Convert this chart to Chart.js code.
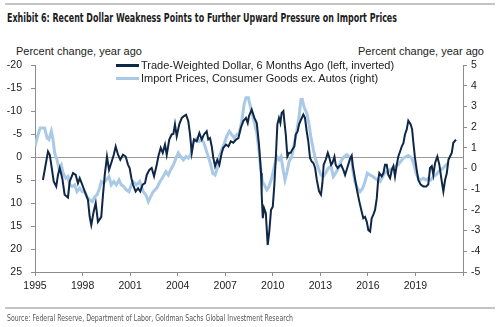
<!DOCTYPE html>
<html>
<head>
<meta charset="utf-8">
<script src="https://cdn.jsdelivr.net/npm/chart.js@4.4.1/dist/chart.umd.min.js"></script>
<style>
  html, body { margin: 0; padding: 0; background: #fff; }
  #wrap { position: relative; width: 500px; height: 327px; overflow: hidden;
          font-family: "Liberation Sans", Arial, sans-serif; color: #222; }
  #chart { position: absolute; left: 0; top: 0; }
  .rule { position: absolute; left: 5px; width: 490px; height: 0; }
  #ruleTop { top: 3px; border-top: 2px solid #c4c4c4; }
  #ruleBottom { top: 307px; border-top: 2px solid #c4c4c4; }
  .fit { position: absolute; white-space: nowrap; transform-origin: 0 50%; }
  #title { left: 7px; top: 10px; line-height: 14px;
           font: bold 12.5px "Liberation Sans Narrow", "DejaVu Sans Condensed", "Liberation Sans", sans-serif;
           color: #1c1c1c; }
  #source { left: 7px; top: 313px; line-height: 12px;
            font: 8.5px "Liberation Sans Narrow", "DejaVu Sans Condensed", "Liberation Sans", sans-serif;
            color: #555; }
  .unit { position: absolute; top: 44px; font-size: 11px; line-height: 14px; white-space: nowrap; color: #222; }
  #unitLeft { left: 16px; }
  #unitRight { right: 16px; }
  #legend { position: absolute; left: 116px; top: 59px; font-size: 11px; line-height: 13px; color: #222; }
  .item { display: flex; align-items: center; white-space: nowrap; }
  .swatch { width: 23px; height: 3px; margin-right: 2px; }
</style>
</head>
<body>
<div id="wrap">
  <div class="rule" id="ruleTop"></div>
  <div class="fit" id="title">Exhibit 6: Recent Dollar Weakness Points to Further Upward Pressure on Import Prices</div>
  <div class="unit" id="unitLeft">Percent change, year ago</div>
  <div class="unit" id="unitRight">Percent change, year ago</div>
  <canvas id="chart" width="500" height="327"></canvas>
  <div id="legend"></div>
  <div class="rule" id="ruleBottom"></div>
  <div class="fit" id="source">Source: Federal Reserve, Department of Labor, Goldman Sachs Global Investment Research</div>
</div>
<script>
// Series names
const seriesNames = [
  'Trade-Weighted Dollar, 6 Months Ago (left, inverted)',
  'Import Prices, Consumer Goods ex. Autos (right)'
];

// Trade-weighted dollar, % yoy, lagged 6 months (left axis, inverted)
const dollarYears = [
  1995.50, 1995.82, 1995.93, 1996.04, 1996.18, 1996.34, 1996.45, 1996.56, 1996.72, 1996.87,
  1997.08, 1997.19, 1997.40, 1997.57, 1997.71, 1997.82, 1997.98, 1998.14, 1998.34, 1998.45,
  1998.55, 1998.70, 1998.83, 1998.97, 1999.18, 1999.29, 1999.40, 1999.54, 1999.67, 1999.81,
  1999.97, 2000.09, 2000.24, 2000.38, 2000.55, 2000.72, 2000.87, 2000.97, 2001.08, 2001.18,
  2001.35, 2001.50, 2001.64, 2001.79, 2001.94, 2002.05, 2002.21, 2002.36, 2002.51, 2002.68,
  2002.78, 2002.93, 2003.06, 2003.20, 2003.31, 2003.47, 2003.62, 2003.73, 2003.83, 2003.94,
  2004.10, 2004.26, 2004.40, 2004.53, 2004.67, 2004.78, 2004.89, 2005.03, 2005.20, 2005.37,
  2005.52, 2005.66, 2005.83, 2005.93, 2006.04, 2006.15, 2006.25, 2006.36, 2006.50, 2006.63,
  2006.78, 2006.88, 2007.05, 2007.20, 2007.35, 2007.51, 2007.68, 2007.83, 2007.98, 2008.14,
  2008.31, 2008.42, 2008.50, 2008.67, 2008.84, 2008.99, 2009.13, 2009.26, 2009.30, 2009.37,
  2009.45, 2009.56, 2009.68, 2009.78, 2009.89, 2010.00, 2010.10, 2010.19, 2010.29, 2010.39,
  2010.48, 2010.56, 2010.67, 2010.73, 2010.82, 2010.92, 2011.03, 2011.13, 2011.23, 2011.36,
  2011.45, 2011.57, 2011.66, 2011.78, 2011.93, 2012.03, 2012.14, 2012.24, 2012.35, 2012.46,
  2012.56, 2012.67, 2012.78, 2012.92, 2013.04, 2013.13, 2013.21, 2013.34, 2013.47, 2013.55,
  2013.68, 2013.76, 2013.89, 2013.97, 2014.10, 2014.20, 2014.31, 2014.45, 2014.56, 2014.73,
  2014.87, 2014.98, 2015.04, 2015.18, 2015.33, 2015.46, 2015.61, 2015.71, 2015.82, 2015.93,
  2016.03, 2016.14, 2016.24, 2016.34, 2016.45, 2016.56, 2016.64, 2016.72, 2016.87, 2016.98,
  2017.08, 2017.19, 2017.29, 2017.40, 2017.51, 2017.61, 2017.71, 2017.82, 2017.92, 2018.03,
  2018.14, 2018.24, 2018.34, 2018.45, 2018.55, 2018.70, 2018.79, 2018.87, 2018.97, 2019.08,
  2019.18, 2019.33, 2019.50, 2019.67, 2019.81, 2019.92, 2020.03, 2020.13, 2020.24, 2020.38,
  2020.51, 2020.66, 2020.76, 2020.87, 2020.98, 2021.08, 2021.18, 2021.29, 2021.39, 2021.56
];
const dollarValues = [
   5.0, -1.2, -0.5,  2.0,  5.3,  6.4,  3.9,  2.4,  4.6,  8.2,
   8.8,  5.3,  3.5,  3.9,  5.7,  4.6,  6.0,  7.5,  9.3, 13.0,
  14.8, 11.9, 10.0, 14.1, 13.0,  8.2,  3.9, -0.1,  2.8,  1.3,
  -0.5, -2.3, -0.5,  0.6, -0.5, -0.1,  1.7,  2.4,  4.6,  6.0,
   7.5,  6.8,  7.5,  6.0,  5.7,  3.9,  2.8,  2.4,  4.2,  1.7,
  -0.1, -2.0, -0.9, -2.7, -0.5, -3.8, -4.9, -5.0, -7.1, -4.5,
  -7.1, -8.5, -8.9, -9.2, -7.8, -4.9, -0.9, -3.8, -3.4, -5.2,
  -3.8, -4.9, -5.6, -3.8, -4.1, -2.3,  0.2,  2.0,  0.6,  1.7,
  -0.9, -2.0, -2.7, -2.3, -3.4, -3.1, -3.8, -4.1, -6.3, -7.8,
  -8.5, -7.4, -8.9,-10.3, -8.5, -7.4, -2.7,  3.5,  8.2, 13.3,
  11.1, 12.2, 19.1, 16.2, 11.5, 10.8,  6.0,  0.2, -7.1, -8.5,
  -7.4, -9.6,-10.0, -7.8, -4.9, -0.1, -0.9, -0.9, -1.6, -2.3,
  -4.9, -5.6, -7.1, -8.1, -9.2, -8.5, -5.6, -3.4,  0.2,  1.0,
   1.3,  2.4,  5.0,  7.5,  8.2,  5.7,  1.7,  0.6, -0.9, -0.1,
   1.7,  1.3, -0.1,  1.7,  2.4,  2.0,  1.7,  2.8,  3.9,  2.0,
   0.4, -0.3,  1.7,  4.6,  7.5,  9.7, 11.9, 13.3, 13.0, 14.1,
  15.9, 16.2, 13.3, 12.6, 11.5,  9.0,  5.3,  3.5,  4.2,  3.5,
   1.7,  1.7,  3.9,  4.6,  2.8,  2.0,  4.2,  1.7, -0.1, -1.2,
  -2.3, -3.0, -4.9, -6.0, -7.9, -7.1, -6.0, -3.1,  0.2,  2.8,
   5.0,  6.0,  6.4,  6.4,  6.0,  2.4,  2.0,  3.9,  1.3, -0.1,
   1.7,  5.3,  7.5,  5.0,  3.5,  0.6, -0.1, -0.9, -3.1, -3.8
];

// Import prices, consumer goods ex. autos, % yoy (right axis)
const importYears = [
  1995.00, 1995.19, 1995.33, 1995.61, 1995.76, 1995.88, 1996.03, 1996.14, 1996.24, 1996.39,
  1996.51, 1996.66, 1996.77, 1996.94, 1997.08, 1997.19, 1997.35, 1997.50, 1997.65, 1997.82,
  1997.98, 1998.14, 1998.28, 1998.45, 1998.62, 1998.77, 1998.91, 1999.07, 1999.18, 1999.33,
  1999.50, 1999.67, 1999.81, 1999.97, 2000.13, 2000.30, 2000.44, 2000.60, 2000.76, 2000.93,
  2001.08, 2001.18, 2001.39, 2001.61, 2001.75, 2001.83, 2002.00, 2002.15, 2002.30, 2002.46,
  2002.68, 2002.89, 2003.09, 2003.26, 2003.41, 2003.56, 2003.73, 2003.90, 2004.04, 2004.19,
  2004.36, 2004.53, 2004.67, 2004.82, 2004.95, 2005.09, 2005.24, 2005.37, 2005.52, 2005.66,
  2005.79, 2005.93, 2006.09, 2006.21, 2006.36, 2006.50, 2006.63, 2006.78, 2006.92, 2007.09,
  2007.26, 2007.41, 2007.56, 2007.73, 2007.89, 2008.04, 2008.19, 2008.31, 2008.46, 2008.56,
  2008.77, 2008.99, 2009.13, 2009.26, 2009.34, 2009.47, 2009.62, 2009.76, 2009.93, 2010.10,
  2010.25, 2010.39, 2010.52, 2010.67, 2010.77, 2010.90, 2011.03, 2011.20, 2011.36, 2011.51,
  2011.66, 2011.78, 2011.86, 2011.99, 2012.14, 2012.29, 2012.41, 2012.56, 2012.71, 2012.87,
  2013.04, 2013.19, 2013.34, 2013.50, 2013.68, 2013.82, 2013.97, 2014.14, 2014.35, 2014.51,
  2014.66, 2014.81, 2014.98, 2015.04, 2015.18, 2015.33, 2015.50, 2015.67, 2015.82, 2015.96,
  2016.14, 2016.31, 2016.45, 2016.60, 2016.77, 2016.94, 2017.08, 2017.23, 2017.40, 2017.57,
  2017.71, 2017.92, 2018.07, 2018.24, 2018.41, 2018.55, 2018.77, 2018.91, 2019.04, 2019.18,
  2019.33, 2019.50, 2019.67, 2019.81, 2019.97, 2020.13, 2020.30, 2020.45, 2020.60, 2020.76,
  2020.93, 2021.08
];
const importValues = [
   1.07,  1.64,  1.96,  1.96,  1.48,  1.40,  1.80,  1.39,  0.75,  0.42,
   0.02,  0.18, -0.22, -0.47, -0.39, -0.79, -0.87, -0.79, -1.12, -0.95,
  -1.12, -1.12, -1.36, -1.52, -1.60, -1.36, -1.28, -0.95, -0.63, -0.71,
  -0.55, -0.39, -0.79, -0.63, -0.79, -0.55, -0.79, -0.87, -1.03, -1.12,
  -0.79, -0.63, -0.79, -0.63, -0.95, -1.12, -1.28, -1.60, -1.36, -1.12,
  -0.95, -0.63, -0.39, -0.15, -0.31, -0.06,  0.18,  0.50,  0.75,  0.58,
   0.42,  0.58,  0.50,  0.67,  1.23,  1.39,  1.47,  1.31,  1.39,  1.23,
   0.91,  0.58,  0.18, -0.22, -0.31,  0.02,  0.58,  0.91,  1.15,  1.55,
   1.80,  1.64,  1.48,  1.64,  1.72,  2.28,  3.09,  3.42,  3.42,  3.09,
   2.45,  1.72,  0.83, -0.15, -0.63, -0.79, -1.03, -0.87, -0.47,  0.10,
   0.58,  0.42,  0.58, -0.15, -0.55, -0.15,  0.34,  0.58,  1.23,  1.80,
   2.52,  3.33,  3.33,  2.93,  2.69,  2.12,  1.48,  0.91,  0.42,  0.02,
  -0.31, -0.39, -0.22,  0.02,  0.10, -0.39, -0.22,  0.02,  0.42,  0.58,
   0.67,  0.58,  0.42, -0.05, -0.63, -0.95, -1.12, -0.95, -0.63, -0.22,
  -0.31, -0.39, -0.47, -0.55, -0.63, -0.39, -0.15, -0.22, -0.06,  0.02,
   0.10,  0.18,  0.34,  0.50,  0.58,  0.63,  0.50,  0.18, -0.22, -0.47,
  -0.55, -0.47, -0.55, -0.47, -0.55, -0.39, -0.31, -0.15, -0.06,  0.02,
   0.18,  0.26
];

// Axis ranges and tick steps
const xRange = [1995, 2022], xStep = 3;
const leftRange = [-20, 25], leftStep = 5;
const rightRange = [-5, 5], rightStep = 1;

const DARK = '#0e2746';
const LIGHT = '#a9c9e7';
const AXIS = '#8c8c8c';

Chart.defaults.font.family = '"Liberation Sans", Arial, sans-serif';
Chart.defaults.font.size = 10.5;
Chart.defaults.color = '#222';

const toPoints = (xs, ys) => xs.map((x, i) => ({ x: x, y: ys[i] }));

const chart = new Chart(document.getElementById('chart'), {
  type: 'line',
  data: {
    datasets: [
      { label: seriesNames[0], data: toPoints(dollarYears, dollarValues), yAxisID: 'yLeft',
        borderColor: DARK, backgroundColor: DARK, borderWidth: 2, pointRadius: 0, tension: 0 },
      { label: seriesNames[1], data: toPoints(importYears, importValues), yAxisID: 'yRight',
        borderColor: LIGHT, backgroundColor: LIGHT, borderWidth: 3, pointRadius: 0, tension: 0 }
    ]
  },
  options: {
    responsive: false,
    animation: false,
    devicePixelRatio: 1,
    layout: { padding: { top: 65, bottom: 35, left: 0, right: 0 } },
    plugins: { legend: { display: false }, tooltip: { enabled: false } },
    scales: {
      x: {
        type: 'linear', min: xRange[0], max: xRange[1],
        ticks: { stepSize: xStep, autoSkip: false, maxRotation: 0, padding: 4,
                 callback: v => (v === xRange[1] ? '' : String(v)) },
        grid: { drawOnChartArea: false, tickLength: 4, tickColor: AXIS },
        border: { color: AXIS },
        afterFit: s => { s.height = 20; }
      },
      yLeft: {
        position: 'left', reverse: true, min: leftRange[0], max: leftRange[1],
        ticks: { stepSize: leftStep, padding: 9 },
        grid: { drawOnChartArea: true, tickLength: 4, tickColor: AXIS,
                color: c => (c.tick && c.tick.value === 0 ? '#9c9c9c' : 'rgba(0,0,0,0)') },
        border: { color: AXIS },
        afterFit: s => { s.width = 35; }
      },
      yRight: {
        position: 'right', min: rightRange[0], max: rightRange[1],
        ticks: { stepSize: rightStep, padding: 4 },
        grid: { drawOnChartArea: false, tickLength: 4, tickColor: AXIS },
        border: { color: AXIS },
        afterFit: s => { s.width = 37; }
      }
    }
  }
});

// Legend built from the chart's datasets
const legend = document.getElementById('legend');
chart.data.datasets.forEach(ds => {
  const row = document.createElement('div');
  row.className = 'item';
  const sw = document.createElement('span');
  sw.className = 'swatch';
  sw.style.background = ds.borderColor;
  const tx = document.createElement('span');
  tx.textContent = ds.label;
  row.appendChild(sw);
  row.appendChild(tx);
  legend.appendChild(row);
});

// Condensed headline and source line squeezed to their set widths
function fitWidth(id, target) {
  const el = document.getElementById(id);
  const w = el.getBoundingClientRect().width;
  if (w > 0) el.style.transform = 'scaleX(' + (target / w) + ')';
}
fitWidth('title', 390);
fitWidth('source', 286);
</script>
</body>
</html>
